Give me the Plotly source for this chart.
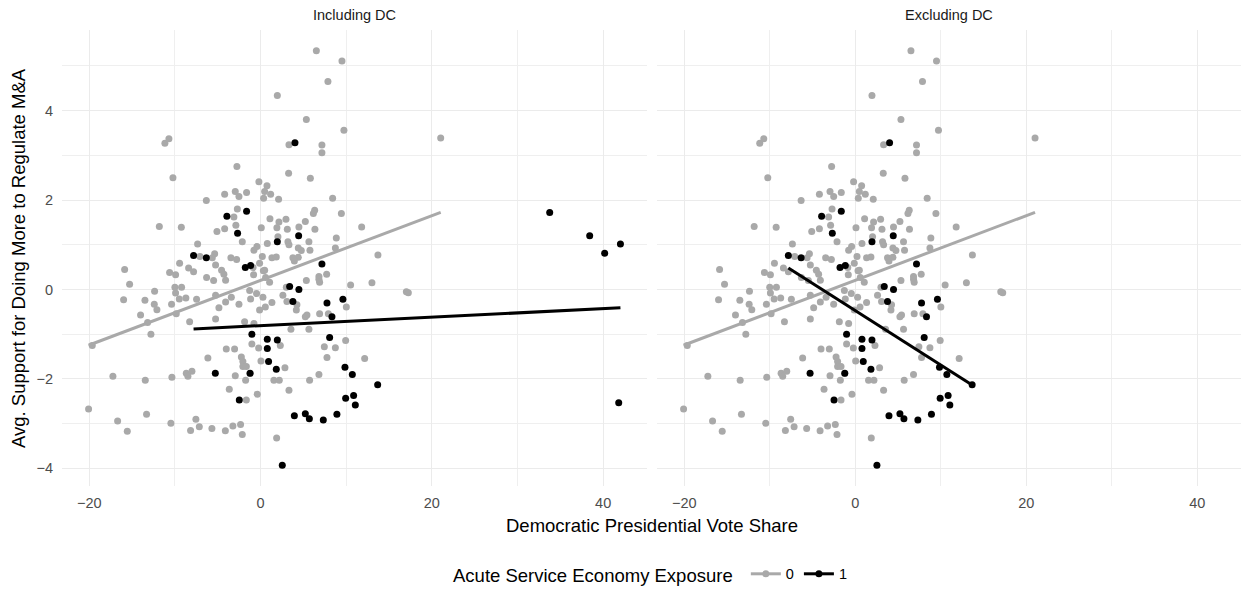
import numpy as np
import plotly.graph_objects as go

# ---- data ----
gray_x = [6.51, 9.50, 7.86, 1.95, 5.34, 9.73, 3.31, 7.16, 7.16, -11.18, -10.71, -2.77, 3.27, 5.81, -10.24,
          -0.20, 0.74, -6.34, -4.20, -2.96, -2.53, -1.64, 0.35, 1.17, 2.10, 8.41, 11.80, 9.43, 6.31, 6.16,
          -2.72, -3.12, -2.89, -5.10, -4.20, -2.14, 1.09, 0.08, 2.14, 2.96, 1.90, 3.12, 4.47, 5.22, 6.34,
          2.02, 0.78, 3.19, 3.31, 5.64, 8.84, 8.73, -0.43, -0.78, 4.40, 4.75, 5.76, 13.70, -5.37, -5.64,
          -5.26, -3.47, -2.80, 0.20, 1.32, 1.83, 3.77, 4.40, -0.12, -4.56, -4.29, 0.47, 3.94, 7.71, 6.81,
          -11.83, -9.26, -7.36, -7.09, -9.46, -8.41, -7.83, -10.63, -9.93, -15.88, -6.31, -5.49, -4.09, -0.82, 0.32,
          0.58, 1.05, -15.30, -12.38, -16.00, -13.51, -12.42, -12.11, -10.01, -9.93, -9.23, -10.40, -9.85, -9.50, -8.73,
          -7.48, -5.26, -4.87, -4.09, -3.42, -2.53, -1.28, -1.17, -0.47, 0.27, -0.12, 0.55, 1.32, 2.60, 3.07,
          3.00, 4.24, 4.17, 5.34, 5.22, 5.41, 6.81, 6.89, 7.91, 10.01, -14.02, -13.20, -12.81, -19.66, -5.26,
          -8.29, -1.87, -0.78, -1.02, -0.23, 2.30, -4.01, -3.04, -6.16, -2.25, -2.07, -2.07, -1.67, 0.04,
          -2.96, -1.25, -1.75, 2.84, 1.55, 2.18, -0.39, 3.31, -3.66, -1.67, -17.25, -13.47, -10.36, -8.68, -8.02,
          -8.49, -20.09, -16.70, -15.57, -13.32, -10.48, -7.56, -7.16, -8.18, -5.69, -4.12, -3.24, -2.34, -2.14, 1.87,
          5.72, 6.81, 7.44, 7.75, 8.73, 9.93, 3.54, 5.64, 10.51, 13.00, 6.89, 12.15, 17.02, 17.25, 21.03,
          0.47, -0.88]
gray_y = [5.34, 5.11, 4.65, 4.34, 3.80, 3.56, 3.24, 3.23, 3.06, 3.27, 3.37, 2.75, 2.60, 2.49, 2.50,
          2.41, 2.32, 1.99, 2.13, 2.19, 2.08, 2.17, 2.04, 2.13, 2.02, 2.04, 1.40, 1.70, 1.77, 1.70,
          1.80, 1.62, 1.44, 1.30, 1.36, 1.07, 1.58, 1.38, 1.51, 1.57, 1.38, 1.35, 1.40, 1.52, 1.35,
          1.18, 1.03, 1.07, 1.00, 1.07, 1.15, 0.93, 0.96, 0.88, 0.93, 0.87, 0.88, 0.77, 0.80, 0.71,
          0.55, 0.71, 0.67, 0.74, 0.71, 0.73, 0.71, 0.72, 0.59, 0.43, 0.34, 0.43, 0.64, 0.34, 0.29,
          1.41, 1.39, 1.02, 0.74, 0.59, 0.48, 0.40, 0.38, 0.33, 0.45, 0.27, 0.20, 0.21, 0.33, 0.42,
          0.27, 0.16, 0.12, -0.04, -0.23, -0.24, -0.33, -0.45, 0.05, -0.08, 0.05, -0.33, -0.54, -0.21, -0.19,
          -0.22, -0.13, -0.41, -0.28, -0.17, -0.33, -0.02, -0.21, -0.09, -0.17, -0.46, -0.39, -0.29, -0.13, -0.27,
          0.05, -0.34, -0.46, 0.20, -0.61, -0.57, 0.23, 0.16, -0.54, -0.39, -0.57, -0.74, -1.00, -1.25, -0.66,
          -0.72, -0.72, -0.76, -1.22, -1.31, -1.25, -1.33, -1.33, -1.53, -1.51, -1.61, -1.72, -1.72, -1.60,
          -1.93, -1.88, -2.03, -1.75, -2.03, -2.03, -2.34, -2.25, -2.23, -2.47, -1.94, -2.03, -1.96, -1.87, -1.83,
          -1.94, -2.67, -2.94, -3.17, -2.79, -2.99, -2.90, -3.07, -3.15, -3.11, -3.16, -3.05, -3.02, -3.24, -3.32,
          -2.03, -1.90, -1.28, -1.52, -1.30, -1.14, -0.89, -0.89, 0.10, 0.15, -0.54, -1.54, -0.05, -0.07, 3.39,
          2.19, 0.49]

black_x = [4.01, -3.94, -1.64, -2.69, 4.44, 1.95, -6.34, -7.83, -1.79, -1.17, 7.16, 3.39, 4.47, 3.77,
           7.75, 8.33, 9.61, -1.02, 0.78, 1.95, 0.78, 0.93, 1.83, -5.29, -2.49, 2.53, 3.94, 5.22, 5.69,
           7.32, 8.91, 9.85, 9.93, 8.06, 10.71, 13.67, 10.86, 11.06, -1.23]
black_y = [3.28, 1.64, 1.75, 1.26, 1.20, 1.07, 0.71, 0.76, 0.49, 0.54, 0.57, 0.07, 0.00, -0.27,
           -0.30, -0.61, -0.22, -1.00, -1.11, -1.13, -1.32, -1.61, -1.78, -1.87, -2.47, -3.93, -2.82, -2.78, -2.89,
           -2.92, -2.79, -1.74, -2.43, -1.07, -1.90, -2.13, -2.37, -2.58, -1.87]

# DC observations (exposure group 1), shown only in the "Including DC" panel
dc_x = [33.76, 38.43, 40.18, 42.02, 41.82]
dc_y = [1.72, 1.20, 0.81, 1.02, -2.53]

panels = ["Including DC", "Excluding DC"]
groups = ["0", "1"]
legend_title = "Acute Service Economy Exposure"
x_title = "Democratic Presidential Vote Share"
y_title = "Avg. Support for Doing More to Regulate M&A"

GRAY = "#A9A9A9"
BLACK = "#000000"
FONT = "Liberation Sans, Arial, Helvetica, sans-serif"
SMALL = 14.5
BIG = 18.5


def fit_line(x, y):
    x = np.asarray(x, float)
    y = np.asarray(y, float)
    b, a = np.polyfit(x, y, 1)
    xs = np.array([x.min(), x.max()])
    return xs, a + b * xs


fig = go.Figure()

for i, panel in enumerate(panels):
    xa = "x" if i == 0 else "x2"
    ya = "y" if i == 0 else "y2"
    bx = list(black_x) + (list(dc_x) if i == 0 else [])
    by = list(black_y) + (list(dc_y) if i == 0 else [])
    fig.add_trace(go.Scatter(x=gray_x, y=gray_y, mode="markers", xaxis=xa, yaxis=ya,
                             marker=dict(color=GRAY, size=7), showlegend=False, hoverinfo="skip"))
    fig.add_trace(go.Scatter(x=bx, y=by, mode="markers", xaxis=xa, yaxis=ya,
                             marker=dict(color=BLACK, size=7), showlegend=False, hoverinfo="skip"))
    gx, gy = fit_line(gray_x, gray_y)
    fig.add_trace(go.Scatter(x=gx, y=gy, mode="lines", xaxis=xa, yaxis=ya,
                             line=dict(color=GRAY, width=3), showlegend=False, hoverinfo="skip"))
    kx, ky = fit_line(bx, by)
    fig.add_trace(go.Scatter(x=kx, y=ky, mode="lines", xaxis=xa, yaxis=ya,
                             line=dict(color=BLACK, width=3), showlegend=False, hoverinfo="skip"))

# legend entries
for g, c in zip(groups, [GRAY, BLACK]):
    fig.add_trace(go.Scatter(x=[None], y=[None], mode="lines+markers", name=g,
                             line=dict(color=c, width=3), marker=dict(color=c, size=7)))

all_x = gray_x + black_x + dc_x
all_y = gray_y + black_y + dc_y
xpad = (max(all_x) - min(all_x)) * 0.05
ypad = (max(all_y) - min(all_y)) * 0.05
xr = [min(all_x) - xpad, max(all_x) + xpad]
yr = [min(all_y) - ypad, max(all_y) + ypad]


def axis(**kw):
    d = dict(showline=False, zeroline=False, ticks="", showgrid=True,
             gridcolor="#EBEBEB", gridwidth=1.2,
             tickfont=dict(family=FONT, size=SMALL, color="#4D4D4D"))
    d.update(kw)
    return d


minor_x = dict(dtick=10, showgrid=True, gridcolor="#EFEFEF", gridwidth=0.8)
minor_y = dict(dtick=1, showgrid=True, gridcolor="#EFEFEF", gridwidth=0.8)

fig.update_layout(
    width=1241, height=593,
    paper_bgcolor="white", plot_bgcolor="white",
    margin=dict(l=62, r=0, t=30, b=102),
    font=dict(family=FONT, color="#000000"),
    xaxis=axis(domain=[0, 0.4962], range=xr, dtick=20, tick0=0, minor=minor_x, ticklabelstandoff=6),
    xaxis2=axis(domain=[0.5047, 1], range=xr, dtick=20, tick0=0, minor=minor_x, ticklabelstandoff=6),
    yaxis=axis(range=yr, dtick=2, tick0=0, minor=minor_y, ticklabelstandoff=8),
    yaxis2=axis(range=yr, dtick=2, tick0=0, minor=minor_y, anchor="x2", showticklabels=False),
    legend=dict(orientation="h", x=0.5, xanchor="center", y=-0.196, yanchor="middle",
                font=dict(family=FONT, size=SMALL, color="#000000"),
                title=dict(text=legend_title + " ", side="left",
                           font=dict(family=FONT, size=BIG, color="#000000")),
                itemwidth=30, bgcolor="rgba(0,0,0,0)"),
)

annotations = []
for i, panel in enumerate(panels):
    dom = [0, 0.4962] if i == 0 else [0.5047, 1]
    annotations.append(dict(text=panel, x=(dom[0] + dom[1]) / 2, y=1, xref="paper", yref="paper",
                            xanchor="center", yanchor="middle", yshift=15, showarrow=False,
                            font=dict(family=FONT, size=SMALL, color="#1A1A1A")))
annotations.append(dict(text=x_title, x=0.5, y=0, xref="paper", yref="paper", xanchor="center",
                        yanchor="middle", yshift=-39, showarrow=False,
                        font=dict(family=FONT, size=BIG, color="#000000")))
annotations.append(dict(text=y_title, x=0, y=0.5, xref="paper", yref="paper", xanchor="center",
                        yanchor="middle", xshift=-44, textangle=-90, showarrow=False,
                        font=dict(family=FONT, size=BIG, color="#000000")))
fig.update_layout(annotations=annotations)

fig.write_html("out.html")
